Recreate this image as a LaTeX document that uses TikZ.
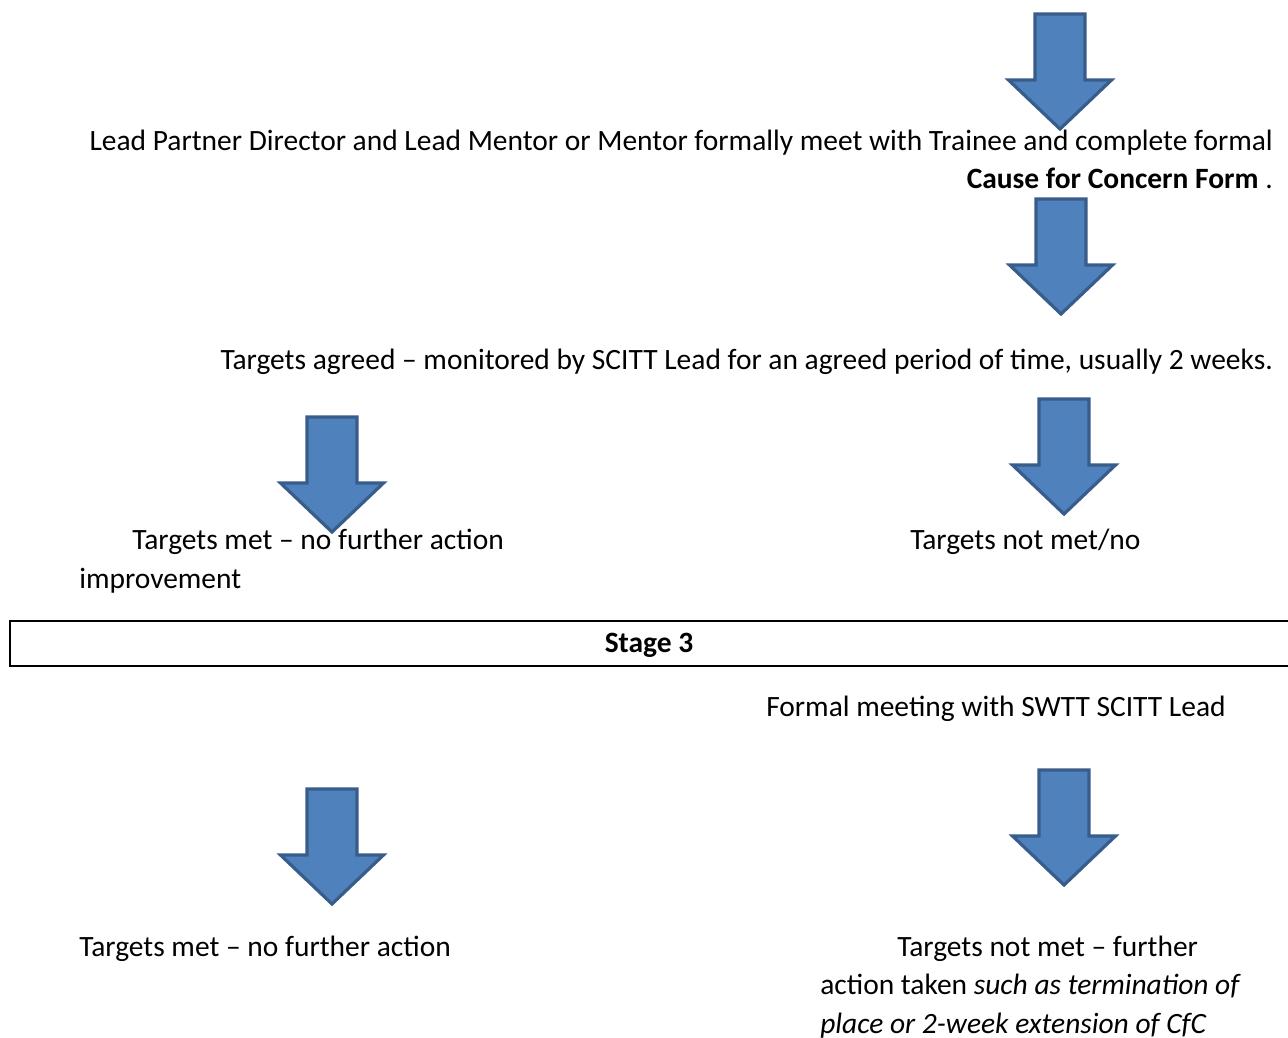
\documentclass[tikz,border=0pt]{standalone}
\usepackage{fontspec}
\setmainfont{Carlito}
\begin{document}
\begin{tikzpicture}[x=0.75pt,y=-0.75pt,
  txt/.style={inner sep=0pt, font=\fontsize{22.1pt}{28.5pt}\selectfont},
  bluearrow/.style={fill=arrowfill, draw=arrowline, line width=2.4pt, line join=miter},
  stagebox/.style={draw=black, line width=1.4pt}]
\definecolor{arrowfill}{HTML}{4F81BD}
\definecolor{arrowline}{HTML}{385D8A}
\tikzset{pics/downarrow/.style={code={
  \draw[bluearrow] (-25,0) -- (25,0) -- (25,66) -- (51.5,66) -- (0,115) -- (-51.5,66) -- (-25,66) -- cycle;}}}
\clip (0,0) rectangle (1288,1038);
\fill[white] (0,0) rectangle (1288,1038);
% arrows
\pic (a1) at (1060,14) {downarrow};
\pic (a2) at (1061,199) {downarrow};
\pic (a3) at (332,417) {downarrow};
\pic (a4) at (1064,399) {downarrow};
\pic (a5) at (332,789) {downarrow};
\pic (a6) at (1064,770) {downarrow};
% texts
\node[txt, anchor=base east] (t1) at (1273,151) {Lead Partner Director and Lead Mentor or Mentor formally meet with Trainee and complete formal};
\node[txt, anchor=base east] (t2) at (1273,189) {\textbf{Cause for Concern Form} .};
\node[txt, anchor=base east] (t3) at (1273,369) {Targets agreed -- monitored by SCITT Lead for an agreed period of time, usually 2 weeks.};
\node[txt, anchor=base west] (t4) at (132,549) {Targets met -- no further action};
\node[txt, anchor=base west] (t5) at (79,588) {improvement};
\node[txt, anchor=base west] (t6) at (910,549) {Targets not met/no};
\draw[stagebox] (10,621) rectangle (1300,666);
\node[txt, anchor=base] (st) at (649,652) {\textbf{Stage 3}};
\node[txt, anchor=base west] (t7) at (766,716) {Formal meeting with SWTT SCITT Lead};
\node[txt, anchor=base west] (t8) at (79,956) {Targets met -- no further action};
\node[txt, anchor=base west] (t9) at (897,956) {Targets not met -- further};
\node[txt, anchor=base west] (t10) at (820,994) {action taken \textit{such as termination of}};
\node[txt, anchor=base west] (t11) at (820,1033) {\textit{place or 2-week extension of CfC}};
\end{tikzpicture}
\end{document}
